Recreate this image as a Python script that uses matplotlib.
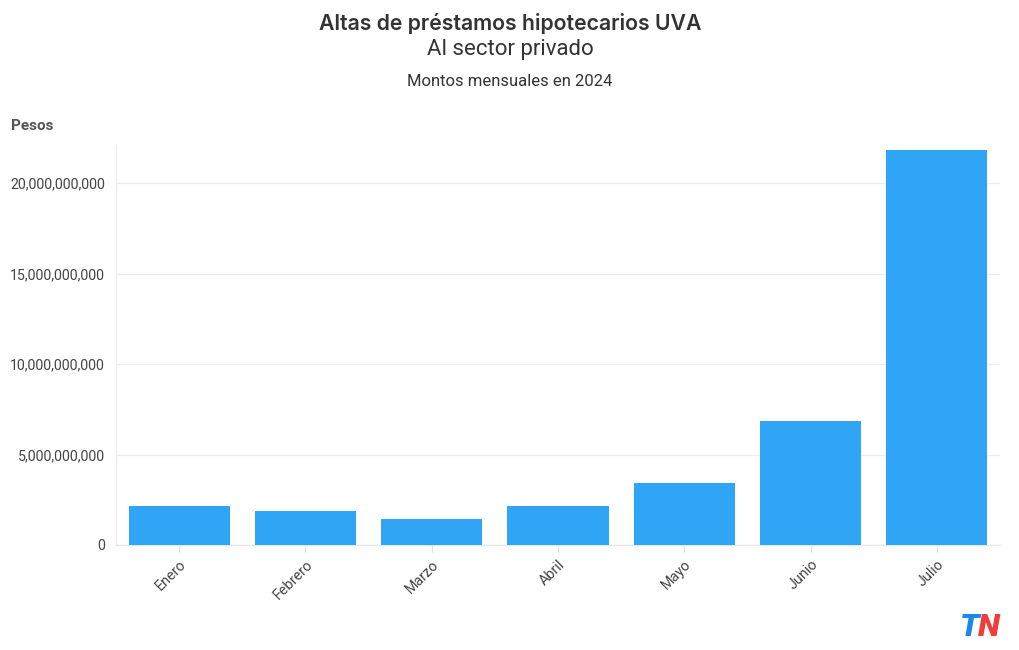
import matplotlib.pyplot as plt
from matplotlib.ticker import FuncFormatter

# datos mensuales (pesos)
meses = ['Enero', 'Febrero', 'Marzo', 'Abril', 'Mayo', 'Junio', 'Julio']
montos = [2.15e9, 1.88e9, 1.44e9, 2.15e9, 3.43e9, 6.85e9, 21.82e9]
yticks = [0, 5e9, 10e9, 15e9, 20e9]

plt.rcParams['font.family'] = ['Roboto', 'DejaVu Sans']

fig = plt.figure(figsize=(10.2, 6.5), dpi=100)
ax = fig.add_axes([116 / 1020, 105 / 650, 884 / 1020, 400 / 650])

x = range(len(meses))
ax.bar(x, montos, width=0.8, color='#31a5f5', zorder=3)

ax.set_xlim(-0.5, len(meses) - 0.5)
ax.set_ylim(0, 22.1e9)
ax.set_yticks(yticks)
ax.yaxis.set_major_formatter(FuncFormatter(lambda v, p: f'{int(v):,}'))
ax.set_xticks(list(x))
ax.set_xticklabels(meses, rotation=45, ha='right', rotation_mode='anchor')

ax.grid(axis='y', color='#ececec', linewidth=0.9, zorder=0)
for s in ['top', 'right']:
    ax.spines[s].set_visible(False)
ax.spines['left'].set_color('#ececec')
ax.spines['bottom'].set_color('#e6e6e6')
ax.tick_params(axis='y', length=0, labelsize=10.2, labelcolor='#444444', pad=8)
ax.tick_params(axis='x', length=5, color='#e0e0e0', labelsize=10.4,
               labelcolor='#444444', pad=4)

# títulos
fig.text(0.5, 1 - 23 / 650, 'Altas de préstamos hipotecarios UVA', ha='center',
         va='center', fontsize=15.3, fontweight='semibold', color='#333333',
         family=['Inter', 'DejaVu Sans'])
fig.text(0.5, 1 - 50 / 650, 'Al sector privado', ha='center', va='center',
         fontsize=16, color='#333333')
fig.text(0.5, 1 - 81 / 650, 'Montos mensuales en 2024', ha='center',
         va='center', fontsize=12, color='#333333')
fig.text(11 / 1020, 1 - 126 / 650, 'Pesos', ha='left', va='center',
         fontsize=11, fontweight='bold', color='#555555')

# logo TN
fig.text(960 / 1020, 1 - 627 / 650, 'T', ha='left', va='center', fontsize=23,
         fontweight='black', style='italic', color='#1a86f0')
fig.text(978 / 1020, 1 - 627 / 650, 'N', ha='left', va='center', fontsize=23,
         fontweight='black', style='italic', color='#f23b3b')

fig.savefig('out.png', dpi=100)
